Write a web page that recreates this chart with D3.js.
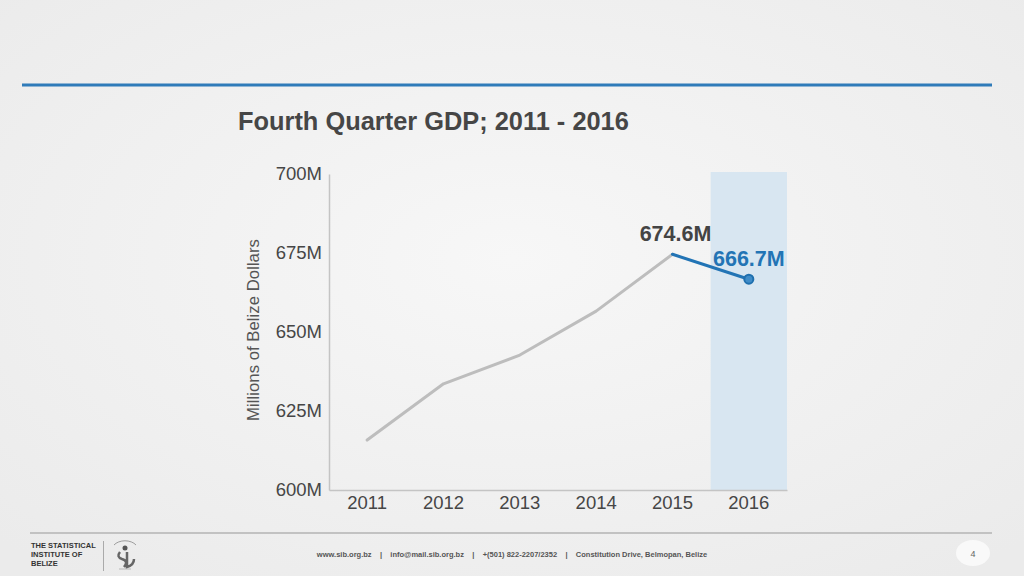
<!DOCTYPE html>
<html>
<head>
<meta charset="utf-8">
<script src="https://cdn.jsdelivr.net/npm/d3@7"></script>
<style>
  body { margin: 0; background: #efefef; }
  svg { display: block; font-family: "Liberation Sans", Arial, Helvetica, sans-serif; }
</style>
</head>
<body>
<svg id="chart" width="1024" height="576"></svg>
<script>
// data
var years = ["2011", "2012", "2013", "2014", "2015", "2016"];
var gdp = [615.8, 633.6, 642.7, 656.6, 674.6, 666.7];
var yTicks = [600, 625, 650, 675, 700];
var highlightYear = "2016";
var footerItems = ["www.sib.org.bz", "info@mail.sib.org.bz", "+(501) 822-2207/2352", "Constitution Drive, Belmopan, Belize"];
var logoLines = ["THE STATISTICAL", "INSTITUTE OF", "BELIZE"];

var svg = d3.select("#chart");

// background with soft radial light
var defs = svg.append("defs");
var grad = defs.append("radialGradient").attr("id", "bg").attr("cx", "50%").attr("cy", "45%").attr("r", "70%");
grad.append("stop").attr("offset", "0%").attr("stop-color", "#f7f7f7");
grad.append("stop").attr("offset", "100%").attr("stop-color", "#ebebeb");
svg.append("rect").attr("width", 1024).attr("height", 576).attr("fill", "url(#bg)");

// top blue rule
svg.append("line")
    .attr("x1", 22).attr("x2", 992).attr("y1", 85).attr("y2", 85)
    .attr("stroke", "#2f7bb9").attr("stroke-width", 3);

// title
svg.append("text")
    .attr("x", 238).attr("y", 130)
    .attr("font-size", 25.4).attr("font-weight", "bold").attr("fill", "#464646")
    .text("Fourth Quarter GDP; 2011 - 2016");

var x = d3.scaleBand().domain(years).range([329, 787]);
var y = d3.scaleLinear().domain([600, 700]).range([490, 174]);

// highlight band for latest year
svg.append("rect")
    .attr("x", x(highlightYear)).attr("width", x.bandwidth())
    .attr("y", y(700) - 2).attr("height", y(600) - y(700) + 2)
    .attr("fill", "#d8e6f1");

// axes
var yAxis = svg.append("g")
    .attr("transform", "translate(329,0)")
    .call(d3.axisLeft(y).tickValues(yTicks).tickSize(0).tickPadding(7).tickFormat(function(d){ return d + "M"; }));
yAxis.select(".domain").attr("stroke", "#c4c4c4").attr("stroke-width", 1.5);
yAxis.selectAll("text").attr("font-size", 18.5).attr("fill", "#464646").attr("font-family", "Liberation Sans, Arial, sans-serif");

var xAxis = svg.append("g")
    .attr("transform", "translate(0,490)")
    .call(d3.axisBottom(x).tickSize(0).tickPadding(6));
xAxis.select(".domain").attr("stroke", "#c4c4c4").attr("stroke-width", 1.5);
xAxis.selectAll("text").attr("font-size", 18.5).attr("fill", "#464646").attr("font-family", "Liberation Sans, Arial, sans-serif");

// axis title
svg.append("text")
    .attr("transform", "translate(259,330) rotate(-90)")
    .attr("text-anchor", "middle")
    .attr("font-size", 16.8).attr("fill", "#555")
    .text("Millions of Belize Dollars");

var pts = years.map(function(yr, i){ return { year: yr, v: gdp[i] }; });
var cx = function(d){ return x(d.year) + x.bandwidth() / 2; };
var line = d3.line().x(cx).y(function(d){ return y(d.v); });

// grey history line
svg.append("path")
    .datum(pts.slice(0, 5))
    .attr("d", line)
    .attr("fill", "none").attr("stroke", "#bdbdbd").attr("stroke-width", 3)
    .attr("stroke-linejoin", "round").attr("stroke-linecap", "round");

// blue latest segment
svg.append("path")
    .datum(pts.slice(4))
    .attr("d", line)
    .attr("fill", "none").attr("stroke", "#2274b5").attr("stroke-width", 3)
    .attr("stroke-linecap", "round");

var last = pts[5], prev = pts[4];
svg.append("circle")
    .attr("cx", cx(last)).attr("cy", y(last.v)).attr("r", 4.5)
    .attr("fill", "#3f8cc8").attr("stroke", "#1f6fae").attr("stroke-width", 2);

svg.append("text")
    .attr("x", cx(prev) + 3).attr("y", y(prev.v) - 13)
    .attr("text-anchor", "middle").attr("font-size", 21.5).attr("font-weight", "bold").attr("fill", "#444")
    .text(prev.v.toFixed(1) + "M");

svg.append("text")
    .attr("x", cx(last)).attr("y", y(last.v) - 13)
    .attr("text-anchor", "middle").attr("font-size", 21.5).attr("font-weight", "bold").attr("fill", "#2274b5")
    .text(last.v.toFixed(1) + "M");

// footer
svg.append("line")
    .attr("x1", 30).attr("x2", 992).attr("y1", 533).attr("y2", 533)
    .attr("stroke", "#c2c2c2").attr("stroke-width", 2);

svg.selectAll(".logoText").data(logoLines).enter().append("text")
    .attr("x", 31).attr("y", function(d, i){ return 548 + i * 9; })
    .attr("font-size", 7.5).attr("font-weight", "bold").attr("fill", "#333")
    .text(function(d){ return d; });

svg.append("line")
    .attr("x1", 103.5).attr("x2", 103.5).attr("y1", 541).attr("y2", 571)
    .attr("stroke", "#aaa").attr("stroke-width", 1);

// rough logo mark
var logo = svg.append("g").attr("transform", "translate(125,555)");
logo.append("path").attr("d", "M-11,-10 A13,9 0 0,1 11,-10").attr("fill", "none").attr("stroke", "#888").attr("stroke-width", 0.8);
logo.append("circle").attr("cx", 0).attr("cy", -7).attr("r", 2.5).attr("fill", "#555");
logo.append("path").attr("d", "M-5,-3 Q-9,2 -3,4 Q4,6 -1,12 M2,-3 L2,12 Q9,10 9,4")
    .attr("fill", "none").attr("stroke", "#666").attr("stroke-width", 2.5);
logo.append("line").attr("x1", -6).attr("x2", 6).attr("y1", 14).attr("y2", 14).attr("stroke", "#999").attr("stroke-width", 0.6);

svg.append("text")
    .attr("x", 512).attr("y", 557)
    .attr("text-anchor", "middle").attr("font-size", 7.5).attr("font-weight", "bold").attr("fill", "#555")
    .attr("xml:space", "preserve")
    .text(footerItems.join("    |    "));

svg.append("ellipse")
    .attr("cx", 973).attr("cy", 553).attr("rx", 17).attr("ry", 13)
    .attr("fill", "#f9f9f9");
svg.append("text")
    .attr("x", 973).attr("y", 557)
    .attr("text-anchor", "middle").attr("font-size", 9).attr("fill", "#666")
    .text("4");
</script>
</body>
</html>
